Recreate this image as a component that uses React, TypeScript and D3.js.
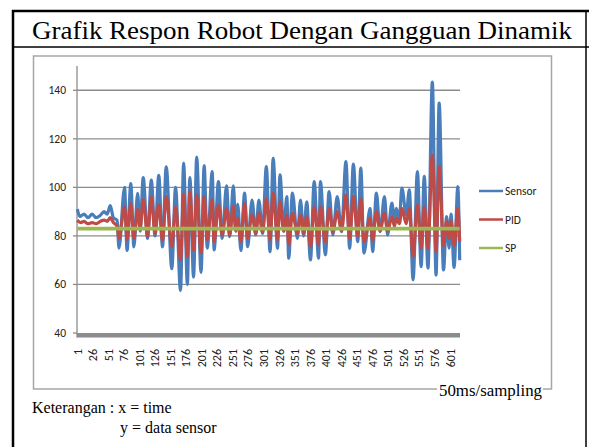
import React from "react";
import * as d3 from "d3";

// sample index, value (turning points)
const sensorPoints: [number, number][] = [
  [1, 91], [5, 88], [12, 89], [18, 87.5], [25, 89], [31, 87.5], [38, 88.5], [44, 90],
  [49, 89], [54, 92.5], [59, 87.5], [65, 86.5],
  [68, 75], [77, 100], [81, 74], [87, 101.5], [92, 75.5], [98, 97.5], [102, 82],
  [107, 104], [114, 79], [120, 103], [126, 80], [132, 105], [138, 75.5], [144, 108.5],
  [153, 66.5], [159, 100], [167, 57.5], [172, 110], [178, 60], [182, 104], [188, 63],
  [193, 112.5], [200, 65], [205, 109], [210, 75], [218, 106.5], [221, 74.2], [228, 102.4],
  [234, 79], [241, 100.6], [246, 79.7], [252, 100.6], [256, 82], [259, 93], [264, 74],
  [270, 97.6], [275, 75.6], [282, 94.8], [288, 80.4], [293, 94.8], [299, 81], [305, 108.6],
  [311, 73.5], [316, 112], [323, 74.9], [327, 105.2], [333, 82], [338, 96.2], [341, 70.8],
  [347, 97.6], [355, 79], [360, 94.8], [365, 80], [370, 94], [376, 70.1], [382, 102.4],
  [389, 70.8], [392, 102.4], [400, 72.2], [406, 98.3], [412, 80.4], [419, 96.2], [426, 81.8],
  [433, 110.6], [439, 74.9], [445, 109.6], [452, 77.6], [457, 107.9], [462, 72.9], [472, 91.4],
  [476, 73.5], [482, 97.6], [488, 81.8], [495, 96.2], [500, 80.4], [507, 93.5], [511, 85.9],
  [514, 91.4], [519, 87], [523, 99.7], [530, 88.7], [535, 99], [541, 61.9], [548, 106.5],
  [554, 67.3], [559, 104.5], [565, 66.7], [572, 143.4], [578, 63.9], [583, 134.7], [590, 66],
  [595, 88], [599, 75], [602, 89], [607, 67], [613, 100.3], [616, 70],
];

const pidPoints: [number, number][] = [
  [1, 86.5], [6, 85.5], [12, 86], [18, 85], [25, 85.5], [31, 85], [38, 86], [44, 86.5],
  [49, 86], [54, 87.5], [59, 85.5], [65, 84],
  [68, 79], [77, 92], [81, 78.5], [87, 93.3], [92, 79], [98, 90.8], [102, 83], [107, 95],
  [114, 80], [120, 96], [126, 81], [132, 93], [138, 78], [144, 96.2], [153, 75.6], [159, 92],
  [167, 70], [172, 97], [178, 71.5], [182, 98.3], [188, 74.2], [193, 97], [200, 73],
  [205, 96.2], [210, 78.4], [218, 94.8], [221, 77.6], [228, 92.8], [234, 80.4], [241, 91.4],
  [246, 80.4], [252, 92.1], [256, 82], [259, 87.3], [264, 77.6], [270, 93.5], [275, 79],
  [282, 88.7], [288, 81.1], [293, 89.4], [299, 81.5], [305, 95.5], [311, 78.4], [316, 97.6],
  [323, 78.4], [327, 94.1], [333, 82], [338, 88.7], [341, 76.3], [347, 89.4], [355, 81],
  [360, 88.7], [365, 81], [370, 88], [376, 75.6], [382, 92.1], [389, 76.3], [392, 92.1],
  [400, 77.6], [406, 91.4], [412, 81.5], [419, 90], [426, 82], [433, 96.9], [439, 79],
  [445, 96.2], [452, 80], [457, 95.5], [462, 77.6], [472, 87.3], [476, 78], [482, 90],
  [488, 82], [495, 89.4], [500, 82], [507, 87.9], [511, 84], [514, 87.3], [519, 85],
  [523, 91.4], [530, 85], [535, 91.4], [541, 71.5], [548, 92.8], [554, 74.9], [559, 92.1],
  [565, 74.9], [572, 113.4], [578, 73.5], [583, 108.6], [590, 76], [595, 86], [599, 79],
  [602, 86], [607, 76], [613, 91.4], [616, 77.6],
];

const spPoints: [number, number][] = [[1, 83], [616, 83]];

const yTicks = [40, 60, 80, 100, 120, 140];
const xTicks = d3.range(1, 602, 25);

const series = [
  { name: "Sensor", color: "#4a7ebb", points: sensorPoints, w: 3.2 },
  { name: "PID", color: "#be4b48", points: pidPoints, w: 3.2 },
  { name: "SP", color: "#98b954", points: spPoints, w: 3.8 },
];

const axisFont = "Carlito, Calibri, 'Liberation Sans Narrow', 'Liberation Sans', sans-serif";
const serif = "'Liberation Serif', 'Times New Roman', serif";

export default function App() {
  const W = 589, H = 447;
  const plot = { left: 77, right: 460, top: 66, bottom: 333 };

  const x = d3.scaleLinear().domain([0.5, 616.5]).range([plot.left, plot.right]);
  const y = d3.scaleLinear().domain([40, 150]).range([plot.bottom, plot.top]);

  const line = d3
    .line<[number, number]>()
    .x((d) => x(d[0]))
    .y((d) => y(d[1]))
    .curve(d3.curveMonotoneX);

  return (
    <svg width={W} height={H} style={{ position: "absolute", left: 0, top: 0, background: "#fff" }}>
      {/* table borders */}
      <line x1={12} x2={589} y1={11} y2={11} stroke="#000" strokeWidth={2.5} />
      <line x1={13} x2={13} y1={10} y2={H} stroke="#000" strokeWidth={2.5} />
      <line x1={586} x2={586} y1={10} y2={H} stroke="#000" strokeWidth={1.5} />
      <line x1={12} x2={589} y1={47} y2={47} stroke="#000" strokeWidth={1.5} />
      <text x={32} y={39} fontFamily={serif} fontSize={25} textLength={540} lengthAdjust="spacingAndGlyphs">
        Grafik Respon Robot Dengan Gangguan Dinamik
      </text>

      {/* chart frame */}
      <rect x={33.5} y={56} width={518} height={333} fill="none" stroke="#a6a6a6" strokeWidth={1.5} />

      {/* gridlines */}
      {yTicks.filter((t) => t > 40).map((t) => (
        <line key={t} x1={plot.left} x2={plot.right} y1={y(t)} y2={y(t)} stroke="#8c8c8c" strokeWidth={1.3} />
      ))}
      {/* floor */}
      <rect x={plot.left} y={y(40)} width={plot.right - plot.left} height={4.5} fill="#8c8c8c" />
      {/* y axis */}
      <line x1={plot.left} x2={plot.left} y1={plot.top} y2={y(40) + 4.5} stroke="#8c8c8c" strokeWidth={1.3} />
      {yTicks.map((t) => (
        <g key={t}>
          <line x1={plot.left - 4} x2={plot.left} y1={y(t)} y2={y(t)} stroke="#8c8c8c" strokeWidth={1.3} />
          <text x={66} y={y(t)} dy="0.35em" textAnchor="end" fontFamily={axisFont} fontSize={11.5} fill="#222">
            {t}
          </text>
        </g>
      ))}
      {xTicks.map((t) => (
        <text
          key={t}
          transform={`translate(${x(t)},349) rotate(-90)`}
          dy="0.35em"
          textAnchor="end"
          fontFamily={axisFont}
          fontSize={12}
          fill="#222"
        >
          {t}
        </text>
      ))}

      {/* series */}
      {series.map((s) => (
        <path key={s.name} d={line(s.points) || ""} fill="none" stroke={s.color} strokeWidth={s.w} strokeLinejoin="round" />
      ))}

      {/* legend */}
      {series.map((s, i) => (
        <g key={s.name} transform={`translate(479,${191 + i * 28.5})`}>
          <line x1={0} x2={24} y1={0} y2={0} stroke={s.color} strokeWidth={2.5} />
          <text x={26} y={0} dy="0.35em" fontFamily={axisFont} fontSize={11.5} fill="#222">
            {s.name}
          </text>
        </g>
      ))}

      {/* x axis note */}
      <rect x={437} y={380} width={106} height={20} fill="#fff" />
      <text x={439} y={396} fontFamily={serif} fontSize={17} textLength={103} lengthAdjust="spacingAndGlyphs">
        50ms/sampling
      </text>

      <text x={32} y={413} fontFamily={serif} fontSize={16}>
        Keterangan : x = time
      </text>
      <text x={120} y={433} fontFamily={serif} fontSize={16}>
        y = data sensor
      </text>
    </svg>
  );
}
